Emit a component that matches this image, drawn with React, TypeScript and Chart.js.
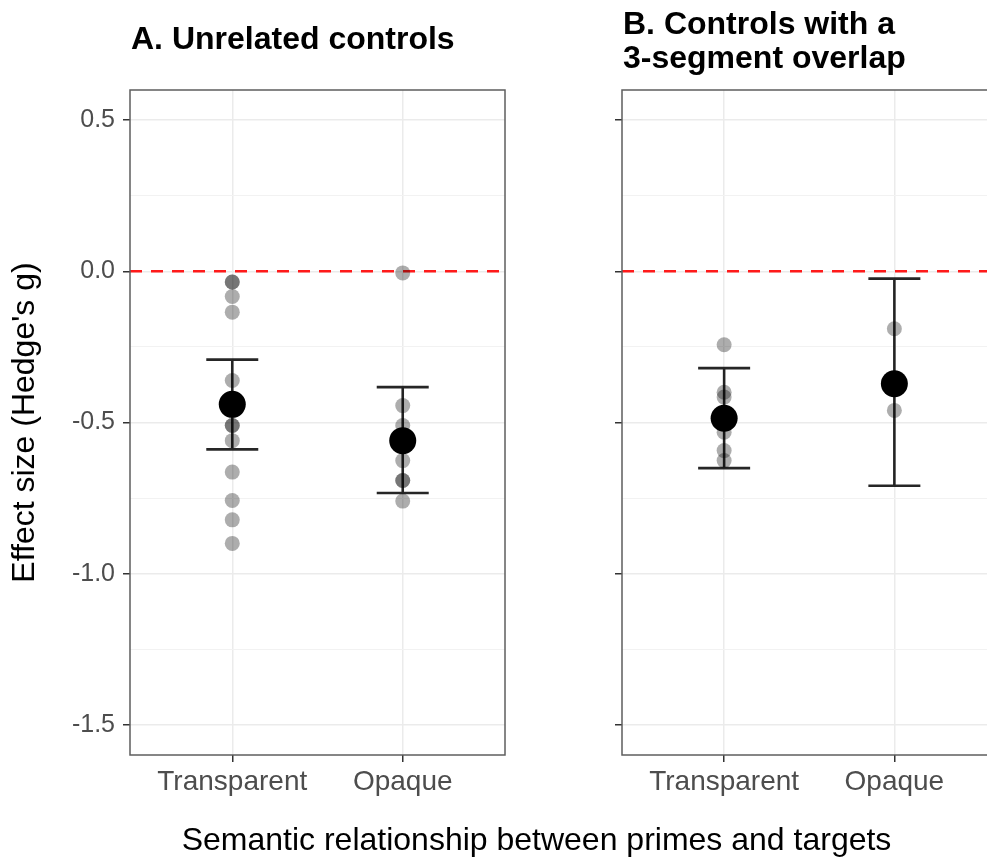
import { useEffect, useRef } from "react";
import { Chart, registerables } from "chart.js";

Chart.register(...registerables);

const FONT = "'Liberation Sans', Arial, Helvetica, sans-serif";

const categories = ["Transparent", "Opaque"];
const yTickValues = [-1.5, -1.25, -1, -0.75, -0.5, -0.25, 0, 0.25, 0.5];

// Panel A: unrelated controls (individual study effects, pooled estimate, 95% CI)
const unrelatedTransparentStudies = [-0.035, -0.035, -0.083, -0.135, -0.361, -0.51, -0.51, -0.56, -0.664, -0.758, -0.822, -0.9];
const unrelatedOpaqueStudies = [-0.005, -0.444, -0.51, -0.626, -0.692, -0.692, -0.76];
const unrelatedMeans = [-0.44, -0.56];
const unrelatedLower = [-0.589, -0.733];
const unrelatedUpper = [-0.292, -0.383];

// Panel B: controls with a 3-segment overlap
const overlapTransparentStudies = [-0.243, -0.4, -0.416, -0.532, -0.593, -0.626];
const overlapOpaqueStudies = [-0.19, -0.46];
const overlapMeans = [-0.486, -0.372];
const overlapLower = [-0.651, -0.709];
const overlapUpper = [-0.32, -0.024];

const isMajor = (v: number) => Math.abs(v * 2 - Math.round(v * 2)) < 1e-6;

type PanelProps = {
  titleLines: string[];
  titleBaselines: number[];
  studies: number[][];
  means: number[];
  lower: number[];
  upper: number[];
  showYLabels: boolean;
  yTitle?: string;
  left: number;
  width: number;
  axisWidth: number;
  rightPad: number;
};

function Panel(props: PanelProps) {
  const ref = useRef<HTMLCanvasElement | null>(null);

  useEffect(() => {
    const canvas = ref.current;
    if (!canvas) return;
    const { titleLines, titleBaselines, studies, means, lower, upper, showYLabels, yTitle, axisWidth, rightPad } = props;

    const studyPoints = studies.flatMap((vals, i) => vals.map((v) => ({ x: i + 1, y: v })));
    const meanPoints = means.map((m, i) => ({ x: i + 1, y: m }));

    const decor = {
      id: "panelDecor",
      beforeDatasetsDraw(chart: any) {
        const { ctx, chartArea, scales } = chart;
        const y0 = scales.y.getPixelForValue(0);
        ctx.save();
        ctx.strokeStyle = "#ff1a1a";
        ctx.lineWidth = 2.5;
        ctx.setLineDash([12, 9]);
        ctx.beginPath();
        ctx.moveTo(chartArea.left, y0);
        ctx.lineTo(chartArea.right, y0);
        ctx.stroke();
        ctx.restore();
      },
      afterDatasetDraw(chart: any, args: any) {
        if (args.index !== 1) return;
        const { ctx, scales } = chart;
        ctx.save();
        ctx.strokeStyle = "rgba(0,0,0,0.85)";
        ctx.lineWidth = 2.6;
        ctx.setLineDash([]);
        means.forEach((_m, i) => {
          const x = scales.x.getPixelForValue(i + 1);
          const yl = scales.y.getPixelForValue(lower[i]);
          const yu = scales.y.getPixelForValue(upper[i]);
          const half = 26;
          ctx.beginPath();
          ctx.moveTo(x, yu);
          ctx.lineTo(x, yl);
          ctx.moveTo(x - half, yu);
          ctx.lineTo(x + half, yu);
          ctx.moveTo(x - half, yl);
          ctx.lineTo(x + half, yl);
          ctx.stroke();
        });
        ctx.restore();
      },
      afterDraw(chart: any) {
        const { ctx, chartArea } = chart;
        ctx.save();
        // panel border
        ctx.strokeStyle = "#5e5e5e";
        ctx.lineWidth = 1.5;
        ctx.strokeRect(chartArea.left, chartArea.top, chartArea.right - chartArea.left, chartArea.bottom - chartArea.top);
        // panel title
        ctx.fillStyle = "#000";
        ctx.font = `bold 32px ${FONT}`;
        ctx.textAlign = "left";
        ctx.textBaseline = "alphabetic";
        titleLines.forEach((line, i) => ctx.fillText(line, chartArea.left + 1, titleBaselines[i]));
        // y-axis title
        if (yTitle) {
          ctx.font = `32px ${FONT}`;
          ctx.textAlign = "center";
          ctx.translate(34, (chartArea.top + chartArea.bottom) / 2);
          ctx.rotate(-Math.PI / 2);
          ctx.fillText(yTitle, 0, 0);
        }
        ctx.restore();
      },
    };

    const chart = new Chart(canvas, {
      type: "scatter",
      data: {
        datasets: [
          {
            data: meanPoints,
            pointRadius: 13.5,
            pointHoverRadius: 13.5,
            backgroundColor: "#000",
            borderWidth: 0,
          },
          {
            data: studyPoints,
            pointRadius: 7.5,
            pointHoverRadius: 7.5,
            backgroundColor: "rgba(0,0,0,0.32)",
            borderWidth: 0,
          },
        ],
      },
      options: {
        responsive: false,
        animation: false,
        events: [],
        layout: { padding: { top: 90, right: rightPad, left: 0, bottom: 0 } },
        plugins: { legend: { display: false }, tooltip: { enabled: false }, title: { display: false } },
        scales: {
          x: {
            type: "linear",
            min: 0.4,
            max: 2.6,
            afterBuildTicks: (s: any) => {
              s.ticks = categories.map((_c, i) => ({ value: i + 1 }));
            },
            afterFit: (s: any) => {
              s.height = 108;
            },
            ticks: {
              callback: (v: any) => categories[Math.round(v) - 1] ?? "",
              font: { family: FONT, size: 28 },
              color: "#4d4d4d",
              padding: 3,
              maxRotation: 0,
              autoSkip: false,
            },
            grid: { color: "#ebebeb", lineWidth: 1.5, tickLength: 7, tickColor: "#333", tickWidth: 1.5 },
            border: { display: false },
          },
          y: {
            type: "linear",
            min: -1.6,
            max: 0.6,
            afterBuildTicks: (s: any) => {
              s.ticks = yTickValues.map((v) => ({ value: v }));
            },
            afterFit: (s: any) => {
              s.width = axisWidth;
            },
            ticks: {
              callback: (v: any) => (showYLabels && isMajor(v) ? Number(v).toFixed(1) : ""),
              font: { family: FONT, size: 25 },
              color: "#4d4d4d",
              padding: 8,
              autoSkip: false,
            },
            grid: {
              color: (c: any) => (c.tick && isMajor(c.tick.value) ? "#ebebeb" : "#f2f2f2"),
              lineWidth: (c: any) => (c.tick && isMajor(c.tick.value) ? 1.5 : 1),
              tickLength: 7,
              tickColor: (c: any) => (c.tick && isMajor(c.tick.value) ? "#333" : "rgba(0,0,0,0)"),
              tickWidth: 1.5,
            },
            border: { display: false },
          },
        },
      },
      plugins: [decor],
    });

    return () => chart.destroy();
  }, []);

  return (
    <canvas
      ref={ref}
      width={props.width}
      height={863}
      style={{ position: "absolute", left: props.left, top: 0, width: props.width, height: 863 }}
    />
  );
}

export default function App() {
  return (
    <div
      style={{
        position: "fixed",
        left: 0,
        top: 0,
        width: 987,
        height: 863,
        overflow: "hidden",
        background: "#fff",
      }}
    >
      <Panel
        titleLines={["A. Unrelated controls"]}
        titleBaselines={[49]}
        studies={[unrelatedTransparentStudies, unrelatedOpaqueStudies]}
        means={unrelatedMeans}
        lower={unrelatedLower}
        upper={unrelatedUpper}
        showYLabels={true}
        yTitle="Effect size (Hedge's g)"
        left={0}
        width={520}
        axisWidth={130}
        rightPad={15}
      />
      <Panel
        titleLines={["B. Controls with a", "3-segment overlap"]}
        titleBaselines={[34, 68]}
        studies={[overlapTransparentStudies, overlapOpaqueStudies]}
        means={overlapMeans}
        lower={overlapLower}
        upper={overlapUpper}
        showYLabels={false}
        left={500}
        width={510}
        axisWidth={122}
        rightPad={13}
      />
      <div
        style={{
          position: "absolute",
          left: 0,
          top: 823,
          width: 1073,
          textAlign: "center",
          fontFamily: FONT,
          fontSize: 32,
          lineHeight: "32px",
          color: "#000",
          whiteSpace: "nowrap",
        }}
      >
        Semantic relationship between primes and targets
      </div>
    </div>
  );
}
